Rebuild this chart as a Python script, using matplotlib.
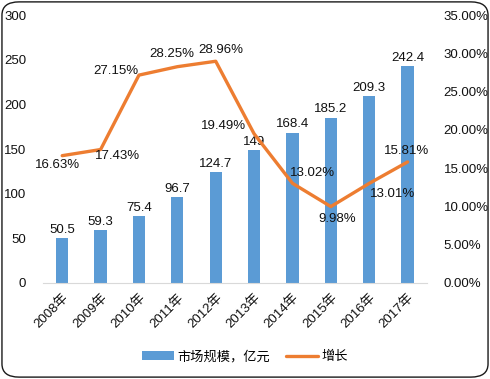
import numpy as np
import matplotlib
matplotlib.use("Agg")
import matplotlib.pyplot as plt
from matplotlib.patches import FancyBboxPatch
from matplotlib.ticker import FuncFormatter

plt.rcParams['font.family'] = ['Liberation Sans', 'Noto Sans CJK SC']

years = ["2008年", "2009年", "2010年", "2011年", "2012年",
         "2013年", "2014年", "2015年", "2016年", "2017年"]
market = [50.5, 59.3, 75.4, 96.7, 124.7, 149, 168.4, 185.2, 209.3, 242.4]
growth = [16.63, 17.43, 27.15, 28.25, 28.96, 19.49, 13.02, 9.98, 13.01, 15.81]
market_labels = ["50.5", "59.3", "75.4", "96.7", "124.7", "149", "168.4", "185.2", "209.3", "242.4"]
# label offsets for the growth labels (pixels, x right / y up)
growth_offsets = [(-5, -9), (17, -6), (-23, 4), (-6, 13), (5, 11),
                  (-31, 8), (20, 10), (6, -12), (23, -11), (-1, 11)]

blue = "#5B9BD5"
orange = "#ED7D31"
txt = "#111111"
fs = 9.5

fig = plt.figure(figsize=(4.9, 3.79), dpi=100)
ax = fig.add_axes([0.0878, 0.2533, 0.7832, 0.7071])
x = np.arange(len(years))

bars = ax.bar(x, market, width=0.32, color=blue, label="市场规模，亿元", zorder=2)
ax.set_xlim(-0.5, len(years) - 0.5)
ax.set_ylim(0, 300)
ax.set_yticks(range(0, 301, 50))
for s in ["top", "right", "left"]:
    ax.spines[s].set_visible(False)
ax.spines["bottom"].set_color("#D9D9D9")
ax.tick_params(axis="both", length=0, labelsize=fs, colors=txt)
ax.tick_params(axis="y", pad=12)
ax.set_xticks(x)
ax.set_xticklabels(years, rotation=45, ha="right", rotation_mode="anchor")
ax.tick_params(axis="x", pad=6)

for xi, v, lab in zip(x, market, market_labels):
    ax.annotate(lab, (xi, v), xytext=(0, 1.5), textcoords="offset points",
                ha="center", va="bottom", fontsize=fs, color=txt)

ax2 = ax.twinx()
ax2.set_ylim(0, 35)
ax2.set_yticks(range(0, 36, 5))
ax2.yaxis.set_major_formatter(FuncFormatter(lambda v, p: "%.2f%%" % v))
for s in ["top", "right", "left", "bottom"]:
    ax2.spines[s].set_visible(False)
ax2.tick_params(axis="y", length=0, labelsize=fs, colors=txt, pad=12)
line, = ax2.plot(x, growth, color=orange, lw=2.4, label="增长", zorder=3,
                 solid_capstyle="round", solid_joinstyle="round")

for xi, g, (dx, dy) in zip(x, growth, growth_offsets):
    ax2.annotate("%.2f%%" % g, (xi, g), xytext=(dx * 0.72, dy * 0.72),
                 textcoords="offset points", ha="center", va="center",
                 fontsize=fs, color=txt)

fig.legend([bars, line], ["市场规模，亿元", "增长"], loc="center",
           bbox_to_anchor=(0.5, 0.058), ncol=2, frameon=False, fontsize=fs,
           handlelength=2.4, columnspacing=1.2, handletextpad=0.3)

border = FancyBboxPatch((0.004, 0.005), 0.992, 0.99, boxstyle="round,pad=0,rounding_size=0.035",
                        transform=fig.transFigure, fill=False, edgecolor="#1a1a1a", lw=1.0)
fig.patches.append(border)

fig.savefig("out.png", dpi=100)
